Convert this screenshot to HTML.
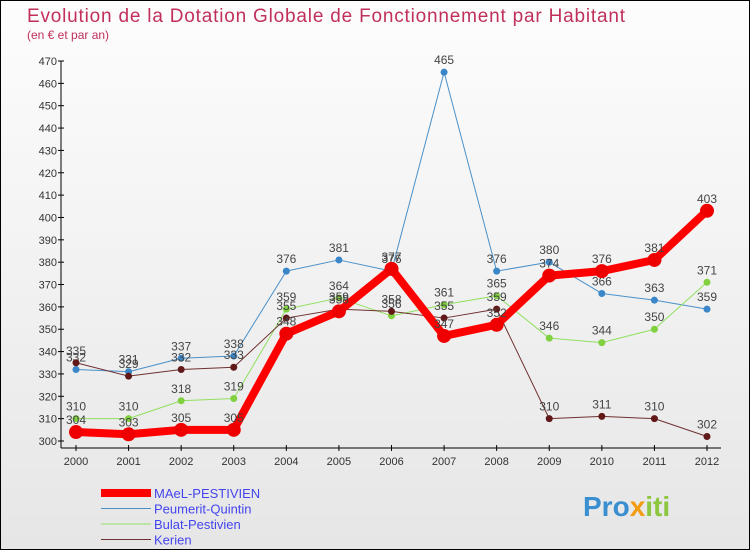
<!DOCTYPE html>
<html><head><meta charset="utf-8"><style>
body{margin:0}
#c{width:748px;height:548px;border:1px solid #000;background:linear-gradient(#fdfdfd,#e6e6e6);position:relative;font-family:"Liberation Sans",sans-serif;overflow:hidden}
</style></head><body>
<div id="c">
<svg id="s" width="748" height="548">
<text x="26" y="21" font-size="19" textLength="598" fill="#c0305a">Evolution de la Dotation Globale de Fonctionnement par Habitant</text>
<text x="26" y="38" font-size="12" fill="#c0305a">(en € et par an)</text>
<g id="axes"></g><g id="series"></g><g id="legend"></g>
<text x="582" y="515" font-size="28" font-weight="bold" fill="#3a8fd0">Pro<tspan fill="#f39c12">x</tspan><tspan fill="#8dc63f">iti</tspan></text>
</svg></div>
<script>
const years=[2000,2001,2002,2003,2004,2005,2006,2007,2008,2009,2010,2011,2012];
const yTicks=[300,310,320,330,340,350,360,370,380,390,400,410,420,430,440,450,460,470];
const mael=[304,303,305,305,348,358,377,347,352,374,376,381,403];
const peumerit=[332,331,337,338,376,381,376,465,376,380,366,363,359];
const bulat=[310,310,318,319,359,364,356,361,365,346,344,350,371];
const kerien=[335,329,332,333,355,359,358,355,359,310,311,310,302];
const names=["MAeL-PESTIVIEN","Peumerit-Quintin","Bulat-Pestivien","Kerien"];
const NS="http://www.w3.org/2000/svg";
const X=i=>75+i*(706-75)/(years.length-1);
const Y=v=>440-(v-300)*380/170;
function el(t,a,p){const e=document.createElementNS(NS,t);for(const k in a)e.setAttribute(k,a[k]);document.getElementById(p).appendChild(e);return e;}
let e=el('line',{x1:60,y1:60,x2:60,y2:447,stroke:'#000'},'axes');

e=el('line',{x1:60,y1:447,x2:720,y2:447,stroke:'#000'},'axes');

yTicks.forEach(v=>{
 const t=el('text',{x:56,y:Y(v)+4,'font-size':11,fill:'#333','text-anchor':'end'},'axes');t.textContent=v;
 
 el('line',{x1:57,y1:Y(v),x2:63,y2:Y(v),stroke:'#000'},'axes');
});
years.forEach((y,i)=>{
 const t=el('text',{x:X(i),y:464,'font-size':11,fill:'#333','text-anchor':'middle'},'axes');t.textContent=y;
 
 el('line',{x1:X(i),y1:444,x2:X(i),y2:450,stroke:'#000'},'axes');
});
const cfg=[[peumerit,'#4a90c8',1,3.5,'#3a86c8'],[bulat,'#90e060',1,3.5,'#80d040'],[kerien,'#703030',1,3.5,'#601818'],[mael,'#ff0000',8,7,'#ee0000']];
const order=[1,2,3,0];
cfg.forEach((c,ci)=>{
 const [d,col,w,r,fc]=c;
 const p=el('polyline',{points:d.map((v,i)=>X(i)+','+Y(v)).join(' '),fill:'none',stroke:col,'stroke-width':w,'stroke-linejoin':'round'},'series');
 
 d.forEach((v,i)=>{
  const m=el('circle',{cx:X(i),cy:Y(v),r:r,fill:fc},'series');
  
  const t=el('text',{x:X(i),y:Y(v)-8,'font-size':12,fill:'#444','text-anchor':'middle'},'series');t.textContent=v;
  
 });
});
const lc=['#ff0000','#4a90c8','#90e060','#703030'],lw=[8,1,1,1];
names.forEach((n,i)=>{
 const yy=492+i*15.5;
 const l=el('line',{x1:100,y1:yy,x2:150,y2:yy,stroke:lc[i],'stroke-width':lw[i]},'legend');
 
 const t=el('text',{x:153,y:yy+5,'font-size':13,fill:'#4444ee'},'legend');t.textContent=n;
 
});
</script></body></html>
